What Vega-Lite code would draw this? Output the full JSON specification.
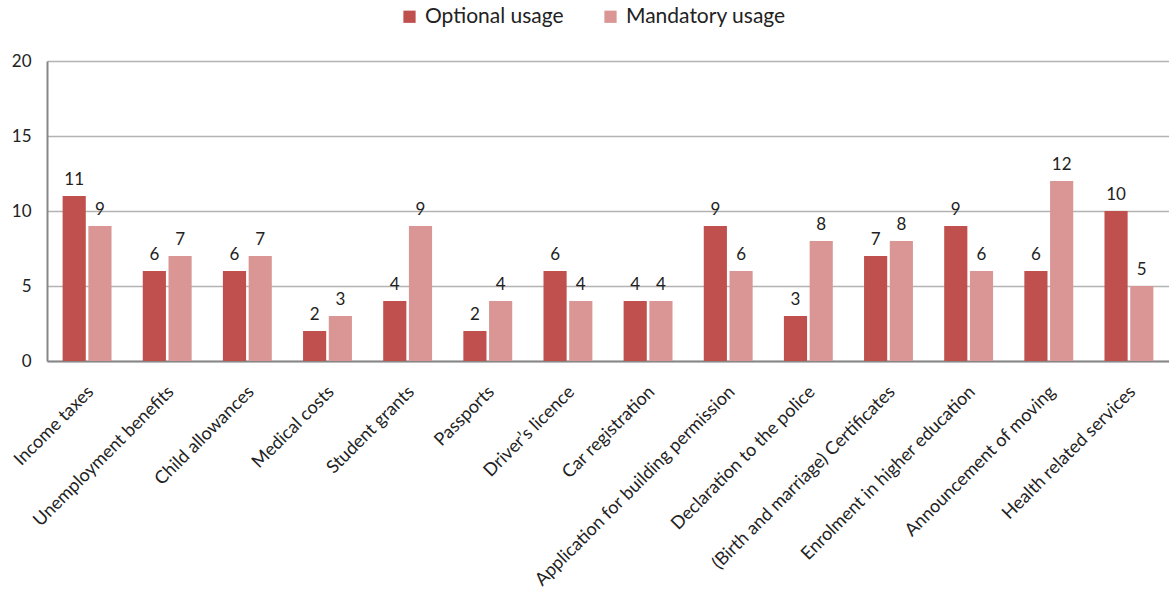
{
  "$schema": "https://vega.github.io/schema/vega-lite/v6.json",
  "autosize": "none",
  "width": 1122,
  "height": 300,
  "padding": {"left": 47, "top": 61, "right": 0, "bottom": 230},
  "background": "white",
  "config": {
    "view": {"stroke": null},
    "font": "Lato",
    "axis": {"labelFont": "Lato", "labelColor": "#222", "titleFont": "Lato"}
  },
  "data": {
    "values": [
      {"service": "Income taxes", "usage": "Optional usage", "count": 11},
      {"service": "Income taxes", "usage": "Mandatory usage", "count": 9},
      {"service": "Unemployment benefits", "usage": "Optional usage", "count": 6},
      {"service": "Unemployment benefits", "usage": "Mandatory usage", "count": 7},
      {"service": "Child allowances", "usage": "Optional usage", "count": 6},
      {"service": "Child allowances", "usage": "Mandatory usage", "count": 7},
      {"service": "Medical costs", "usage": "Optional usage", "count": 2},
      {"service": "Medical costs", "usage": "Mandatory usage", "count": 3},
      {"service": "Student grants", "usage": "Optional usage", "count": 4},
      {"service": "Student grants", "usage": "Mandatory usage", "count": 9},
      {"service": "Passports", "usage": "Optional usage", "count": 2},
      {"service": "Passports", "usage": "Mandatory usage", "count": 4},
      {"service": "Driver’s licence", "usage": "Optional usage", "count": 6},
      {"service": "Driver’s licence", "usage": "Mandatory usage", "count": 4},
      {"service": "Car registration", "usage": "Optional usage", "count": 4},
      {"service": "Car registration", "usage": "Mandatory usage", "count": 4},
      {"service": "Application for building permission", "usage": "Optional usage", "count": 9},
      {"service": "Application for building permission", "usage": "Mandatory usage", "count": 6},
      {"service": "Declaration to the police", "usage": "Optional usage", "count": 3},
      {"service": "Declaration to the police", "usage": "Mandatory usage", "count": 8},
      {"service": "(Birth and marriage) Certificates", "usage": "Optional usage", "count": 7},
      {"service": "(Birth and marriage) Certificates", "usage": "Mandatory usage", "count": 8},
      {"service": "Enrolment in higher education", "usage": "Optional usage", "count": 9},
      {"service": "Enrolment in higher education", "usage": "Mandatory usage", "count": 6},
      {"service": "Announcement of moving", "usage": "Optional usage", "count": 6},
      {"service": "Announcement of moving", "usage": "Mandatory usage", "count": 12},
      {"service": "Health related services", "usage": "Optional usage", "count": 10},
      {"service": "Health related services", "usage": "Mandatory usage", "count": 5}
    ]
  },
  "encoding": {
    "x": {
      "field": "service",
      "type": "nominal",
      "sort": null,
      "title": null,
      "scale": {"paddingInner": 0.39, "paddingOuter": 0.195},
      "axis": {
        "labelAngle": -45,
        "labelAlign": "right",
        "labelBaseline": "middle",
        "labelFontSize": 18,
        "labelPadding": 28,
        "labelOffset": 4,
        "ticks": false,
        "domainColor": "#878787",
        "domainWidth": 2,
        "labelLimit": 400
      }
    },
    "xOffset": {
      "field": "usage",
      "type": "nominal",
      "sort": ["Optional usage", "Mandatory usage"],
      "scale": {"paddingInner": 0.1}
    },
    "y": {
      "field": "count",
      "type": "quantitative",
      "title": null,
      "scale": {"domain": [0, 20]},
      "axis": {
        "values": [0, 5, 10, 15, 20],
        "labelFontSize": 17,
        "labelPadding": 16,
        "ticks": false,
        "domainColor": "#878787",
        "domainWidth": 2,
        "gridColor": "#B3B3B3",
        "gridWidth": 1.5
      }
    }
  },
  "layer": [
    {
      "mark": {"type": "bar"},
      "encoding": {
        "color": {
          "field": "usage",
          "type": "nominal",
          "sort": ["Optional usage", "Mandatory usage"],
          "scale": {"domain": ["Optional usage", "Mandatory usage"], "range": ["#C0504D", "#D99694"]},
          "legend": {
            "title": null,
            "orient": "none",
            "direction": "horizontal",
            "legendX": 352,
            "legendY": -55,
            "symbolType": "square",
            "symbolSize": 150,
            "symbolStrokeWidth": 0,
            "labelFontSize": 21,
            "labelColor": "#222",
            "columnPadding": 36,
            "labelOffset": 5
          }
        }
      }
    },
    {
      "mark": {"type": "text", "baseline": "bottom", "dy": -7, "fontSize": 17, "color": "#222"},
      "encoding": {"text": {"field": "count", "type": "quantitative"}}
    }
  ]
}
